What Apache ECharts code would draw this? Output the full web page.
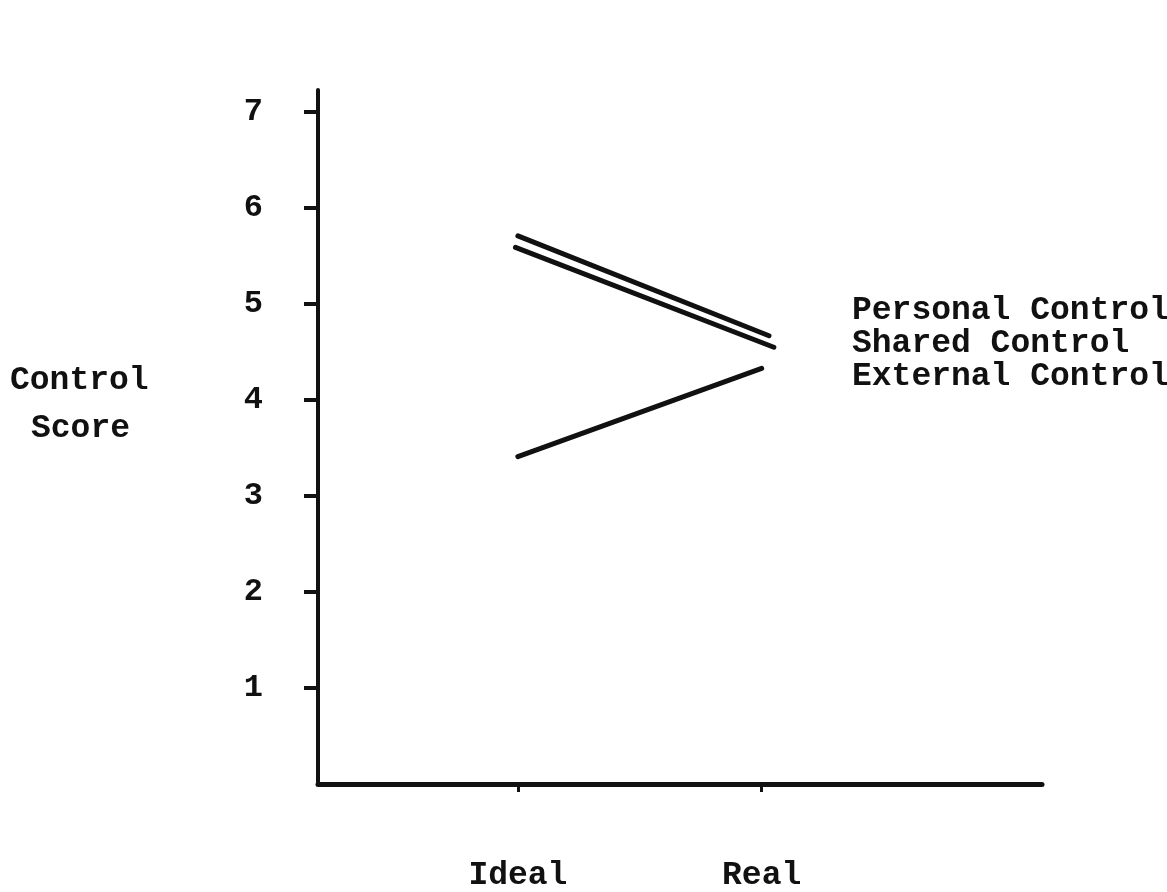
<!DOCTYPE html>
<html>
<head>
<meta charset="utf-8">
<script src="https://cdn.jsdelivr.net/npm/echarts@6/dist/echarts.min.js"></script>
<style>
  html, body { margin: 0; padding: 0; background: #fff; }
  #chart-container { width: 1167px; height: 892px; }
</style>
</head>
<body>
<div id="chart-container"></div>
<script>
// x positions: Ideal = 1, Real = 2
const categories = ['Ideal', 'Real'];
const yTicks = [1, 2, 3, 4, 5, 6, 7];
const seriesNames = ['Personal Control', 'Shared Control', 'External Control'];
const personal = [[1.0, 5.71], [2.03, 4.67]];
const shared = [[0.99, 5.59], [2.05, 4.55]];
const external = [[1.0, 3.41], [2.0, 4.33]];

const ink = '#111';
const mono = '"Liberation Mono", "DejaVu Sans Mono", monospace';

var dom = document.getElementById('chart-container');
var myChart = echarts.init(dom, null, { renderer: 'canvas' });

var option = {
    animation: false,
    backgroundColor: '#fff',
    grid: { left: 318, top: 90, right: 125, bottom: 105 },
    legend: {
        data: seriesNames,
        orient: 'vertical',
        left: 842,
        top: 289,
        icon: 'none',
        itemWidth: 0,
        itemHeight: 20,
        itemGap: 0,
        selectedMode: false,
        textStyle: { fontFamily: mono, fontSize: 33, lineHeight: 32, fontWeight: 'bold', color: ink }
    },
    graphic: [
        { type: 'text', left: 10, top: 364, style: { text: 'Control', font: 'bold 33px ' + mono, fill: ink } },
        { type: 'text', left: 31, top: 412, style: { text: 'Score', font: 'bold 33px ' + mono, fill: ink } }
    ],
    xAxis: {
        type: 'value',
        min: 0.18,
        max: 3.15,
        splitLine: { show: false },
        axisLine: { onZero: false, lineStyle: { color: ink, width: 5 } },
        axisTick: { customValues: [1, 2], length: 8, lineStyle: { color: ink, width: 3 } },
        axisLabel: {
            customValues: [1, 2],
            margin: 75,
            formatter: (v) => categories[Math.round(v) - 1],
            fontFamily: mono, fontSize: 33, fontWeight: 'bold', color: ink
        }
    },
    yAxis: {
        type: 'value',
        min: 0,
        max: 7.23,
        splitLine: { show: false },
        axisLine: { show: true, lineStyle: { color: ink, width: 4 } },
        axisTick: { show: true, customValues: yTicks, length: 14, lineStyle: { color: ink, width: 4 } },
        axisLabel: {
            customValues: yTicks,
            margin: 55,
            fontFamily: mono, fontSize: 32, fontWeight: 'bold', color: ink
        }
    },
    series: [
        { name: seriesNames[0], type: 'line', data: personal },
        { name: seriesNames[1], type: 'line', data: shared },
        { name: seriesNames[2], type: 'line', data: external }
    ].map(s => Object.assign(s, {
        symbol: 'none',
        color: ink,
        lineStyle: { color: ink, width: 5, cap: 'round' }
    }))
};

myChart.setOption(option);
window.addEventListener('resize', myChart.resize);
</script>
</body>
</html>
